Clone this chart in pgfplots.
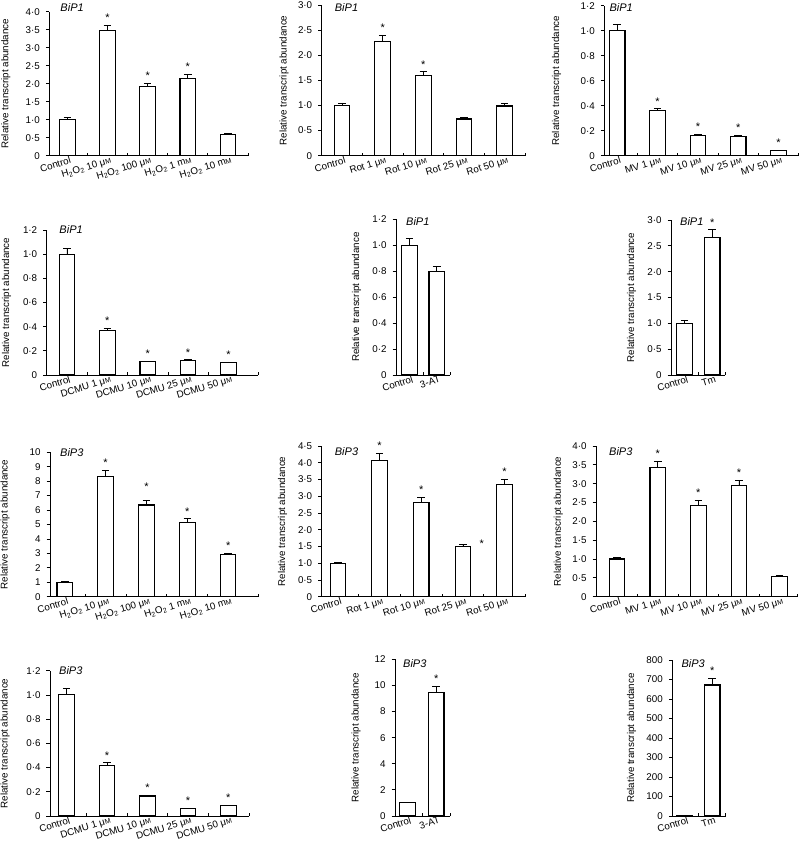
\documentclass[border=0pt]{standalone}
\usepackage{fontspec}
\setmainfont{Liberation Sans}
\usepackage{pgfplots}
\pgfplotsset{compat=1.18}

\newcommand{\uM}{μ{\fontsize{7}{8}\selectfont M}}
\newcommand{\mM}{m{\fontsize{7}{8}\selectfont M}}
\newcommand{\hh}{H\textsubscript{2}O\textsubscript{2}}

\pgfplotsset{
  bip/.style={
    scale only axis, clip=false, anchor=south west,
    axis lines*=left, axis line style={-, line width=0.9pt},
    tick style={black, line width=0.8pt},
    ymin=0, ybar, bar width=15.5pt, bar shift=0pt,
    ytick align=outside, xtick align=inside,
    major tick length=3.5pt, minor tick length=3pt,
    major x tick style={draw=none},
    tick label style={font=\fontsize{9.8}{11}\selectfont},
    yticklabel style={xshift=-2.5pt},
    xticklabel style={rotate=17, anchor=north east, inner sep=1pt, xshift=3pt},
    ylabel={Relative transcript abundance},
    label style={font=\fontsize{9.8}{11}\selectfont},
  },
  yl/.style={ylabel style={at={([xshift=-#1pt]rel axis cs:0,0.5)}, anchor=center}},
  eb/.style={fill=white, draw=black, line width=1.1pt,
    error bars/.cd, y dir=plus, y explicit,
    error bar style={line width=0.8pt, black},
    error mark options={rotate=90, mark size=3.8pt, line width=0.8pt, black}},
}
\tikzset{
  st/.style={anchor=south, inner sep=0pt, yshift=3.5pt, font=\fontsize{11}{11}\selectfont},
  ttl/.style={anchor=west, inner sep=0pt, font=\itshape\fontsize{11}{12}\selectfont},
}

\begin{document}
\begin{tikzpicture}
\useasboundingbox (0,0) rectangle (800pt,-858pt);

% ---------- row 1 ----------
\begin{axis}[bip, at={(49.3pt,-155.7pt)}, width=198.7pt, height=144pt,
  xmin=-0.45, xmax=4.5, xtick={0,...,4}, minor xtick={0.5,1.5,2.5,3.5,4.5},
  xticklabels={Control, \hh\ 10 \uM, \hh\ 100 \uM, \hh\ 1 \mM, \hh\ 10 \mM},
  ymax=4, ytick={0,0.5,...,4}, yticklabels={0,0·5,1·0,1·5,2·0,2·5,3·0,3·5,4·0}, yl=43.5]
\addplot[eb] coordinates {(0,1.00) +- (0,0.05) (1,3.47) +- (0,0.16) (2,1.92) +- (0,0.09) (3,2.15) +- (0,0.10) (4,0.60) +- (0,0.03)};
\node[st] at (axis cs:1,3.63) {*};
\node[st] at (axis cs:2,2.01) {*};
\node[st] at (axis cs:3,2.25) {*};
\node[ttl] at ([xshift=11pt,yshift=4pt]rel axis cs:0,1) {BiP1};
\end{axis}

\begin{axis}[bip, at={(321.7pt,-155.7pt)}, width=203.3pt, height=150.7pt,
  xmin=-0.5, xmax=4.5, xtick={0,...,4}, minor xtick={0.5,1.5,2.5,3.5,4.5},
  xticklabels={Control, Rot 1 \uM, Rot 10 \uM, Rot 25 \uM, Rot 50 \uM},
  ymax=3, ytick={0,0.5,...,3}, yticklabels={0,0·5,1·0,1·5,2·0,2·5,3·0}, yl=37.7]
\addplot[eb] coordinates {(0,1.00) +- (0,0.05) (1,2.27) +- (0,0.12) (2,1.59) +- (0,0.08) (3,0.73) +- (0,0.03) (4,0.99) +- (0,0.05)};
\node[st] at (axis cs:1,2.39) {*};
\node[st] at (axis cs:2,1.67) {*};
\node[ttl] at ([xshift=13pt,yshift=-2.5pt]rel axis cs:0,1) {BiP1};
\end{axis}

\begin{axis}[bip, at={(604.3pt,-155.7pt)}, width=193.7pt, height=150pt,
  xmin=-0.32, xmax=4.48, xtick={0,...,4}, minor xtick={0.5,1.5,2.5,3.5,4.48},
  xticklabels={Control, MV 1 \uM, MV 10 \uM, MV 25 \uM, MV 50 \uM},
  ymax=1.2, ytick={0,0.2,...,1.2}, yticklabels={0,0·2,0·4,0·6,0·8,1·0,1·2}, yl=47.6]
\addplot[eb] coordinates {(0,1.00) +- (0,0.05) (1,0.36) +- (0,0.015) (2,0.165) +- (0,0.007) (3,0.157) +- (0,0.005) (4,0.042) +- (0,0.003)};
\node[st] at (axis cs:1,0.375) {*};
\node[st] at (axis cs:2,0.172) {*};
\node[st] at (axis cs:3,0.162) {*};
\node[st] at (axis cs:4,0.045) {*};
\node[ttl] at ([xshift=5pt,yshift=-2pt]rel axis cs:0,1) {BiP1};
\end{axis}

% ---------- row 2 ----------
\begin{axis}[bip, at={(46.7pt,-375pt)}, width=211.3pt, height=145pt,
  xmin=-0.5, xmax=4.73, xtick={0,...,4}, minor xtick={0.5,1.5,2.5,3.5,4.73},
  xticklabels={Control, DCMU 1 \uM, DCMU 10 \uM, DCMU 25 \uM, DCMU 50 \uM},
  ymax=1.2, ytick={0,0.2,...,1.2}, yticklabels={0,0·2,0·4,0·6,0·8,1·0,1·2}, yl=40]
\addplot[eb] coordinates {(0,1.00) +- (0,0.05) (1,0.37) +- (0,0.015) (2,0.11) +- (0,0.005) (3,0.12) +- (0,0.005) (4,0.105) +- (0,0.003)};
\node[st] at (axis cs:1,0.385) {*};
\node[st] at (axis cs:2,0.115) {*};
\node[st] at (axis cs:3,0.125) {*};
\node[st] at (axis cs:4,0.108) {*};
\node[ttl] at ([xshift=12.6pt,yshift=0pt]rel axis cs:0,1) {BiP1};
\end{axis}

\begin{axis}[bip, at={(396pt,-375pt)}, width=54pt, height=155.7pt,
  xmin=-0.5, xmax=1.49, xtick={0,1}, minor xtick={0.5,1.49},
  xticklabels={Control, 3-AT},
  ymax=1.2, ytick={0,0.2,...,1.2}, yticklabels={0,0·2,0·4,0·6,0·8,1·0,1·2}, yl=39.3]
\addplot[eb] coordinates {(0,1.00) +- (0,0.05) (1,0.80) +- (0,0.04)};
\node[ttl] at ([xshift=10pt,yshift=-2pt]rel axis cs:0,1) {BiP1};
\end{axis}

\begin{axis}[bip, at={(671pt,-375pt)}, width=54pt, height=155pt,
  xmin=-0.49, xmax=1.46, xtick={0,1}, minor xtick={0.5,1.46},
  xticklabels={Control, Tm},
  ymax=3, ytick={0,0.5,...,3}, yticklabels={0,0·5,1·0,1·5,2·0,2·5,3·0}, yl=39.3]
\addplot[eb] coordinates {(0,1.00) +- (0,0.05) (1,2.67) +- (0,0.14)};
\node[st] at (axis cs:1,2.81) {*};
\node[ttl] at ([xshift=9pt,yshift=-2pt]rel axis cs:0,1) {BiP1};
\end{axis}

% ---------- row 3 ----------
\begin{axis}[bip, at={(50pt,-596.7pt)}, width=208pt, height=144.4pt,
  xmin=-0.36, xmax=4.73, xtick={0,...,4}, minor xtick={0.5,1.5,2.5,3.5,4.73},
  xticklabels={Control, \hh\ 10 \uM, \hh\ 100 \uM, \hh\ 1 \mM, \hh\ 10 \mM},
  ymax=10, ytick={0,1,...,10}, yticklabels={0,1,2,3,4,5,6,7,8,9,10}, yl=45]
\addplot[eb] coordinates {(0,1.00) +- (0,0.05) (1,8.35) +- (0,0.41) (2,6.35) +- (0,0.30) (3,5.12) +- (0,0.28) (4,2.91) +- (0,0.10)};
\node[st] at (axis cs:1,8.76) {*};
\node[st] at (axis cs:2,7.1) {*};
\node[st] at (axis cs:3,5.4) {*};
\node[st] at (axis cs:4,3.01) {*};
\node[ttl] at ([xshift=10pt,yshift=0pt]rel axis cs:0,1) {BiP3};
\end{axis}

\begin{axis}[bip, at={(321.7pt,-596.7pt)}, width=203.3pt, height=150.7pt,
  xmin=-0.39, xmax=4.49, xtick={0,...,4}, minor xtick={0.5,1.5,2.5,3.5,4.49},
  xticklabels={Control, Rot 1 \uM, Rot 10 \uM, Rot 25 \uM, Rot 50 \uM},
  ymax=4.5, ytick={0,0.5,...,4.5}, yticklabels={0,0·5,1·0,1·5,2·0,2·5,3·0,3·5,4·0,4·5}, yl=39]
\addplot[eb] coordinates {(0,1.00) +- (0,0.03) (1,4.08) +- (0,0.20) (2,2.81) +- (0,0.16) (3,1.49) +- (0,0.07) (4,3.34) +- (0,0.16)};
\node[st] at (axis cs:1,4.28) {*};
\node[st] at (axis cs:2,2.97) {*};
\node[st] at (axis cs:3.45,1.36) {*};
\node[st] at (axis cs:4,3.50) {*};
\node[ttl] at ([xshift=13pt,yshift=-6pt]rel axis cs:0,1) {BiP3};
\end{axis}

\begin{axis}[bip, at={(596pt,-596.7pt)}, width=201pt, height=150.7pt,
  xmin=-0.52, xmax=4.43, xtick={0,...,4}, minor xtick={0.5,1.5,2.5,3.5,4.43},
  xticklabels={Control, MV 1 \uM, MV 10 \uM, MV 25 \uM, MV 50 \uM},
  ymax=4, ytick={0,0.5,...,4}, yticklabels={0,0·5,1·0,1·5,2·0,2·5,3·0,3·5,4·0}, yl=37.7]
\addplot[eb] coordinates {(0,1.00) +- (0,0.05) (1,3.42) +- (0,0.18) (2,2.43) +- (0,0.13) (3,2.95) +- (0,0.14) (4,0.54) +- (0,0.02)};
\node[st] at (axis cs:1,3.60) {*};
\node[st] at (axis cs:2,2.56) {*};
\node[st] at (axis cs:3,3.09) {*};
\node[ttl] at ([xshift=13pt,yshift=-6pt]rel axis cs:0,1) {BiP3};
\end{axis}

% ---------- row 4 ----------
\begin{axis}[bip, at={(50pt,-816pt)}, width=199pt, height=145.3pt,
  xmin=-0.41, xmax=4.51, xtick={0,...,4}, minor xtick={0.5,1.5,2.5,3.5,4.51},
  xticklabels={Control, DCMU 1 \uM, DCMU 10 \uM, DCMU 25 \uM, DCMU 50 \uM},
  ymax=1.2, ytick={0,0.2,...,1.2}, yticklabels={0,0·2,0·4,0·6,0·8,1·0,1·2}, yl=45]
\addplot[eb] coordinates {(0,1.00) +- (0,0.05) (1,0.415) +- (0,0.025) (2,0.165) +- (0,0.006) (3,0.063) +- (0,0.003) (4,0.085) +- (0,0.003)};
\node[st] at (axis cs:1,0.44) {*};
\node[st] at (axis cs:2,0.171) {*};
\node[st] at (axis cs:3,0.066) {*};
\node[st] at (axis cs:4,0.088) {*};
\node[ttl] at ([xshift=9pt,yshift=0pt]rel axis cs:0,1) {BiP3};
\end{axis}

\begin{axis}[bip, at={(395pt,-816pt)}, width=55pt, height=156.7pt,
  xmin=-0.44, xmax=1.48, xtick={0,1}, minor xtick={0.5,1.48},
  xticklabels={Control, 3-AT},
  ymax=12, ytick={0,2,...,12}, yticklabels={0,2,4,6,8,10,12}, yl=39]
\addplot[eb] coordinates {(0,1.02) +- (0,0.05) (1,9.47) +- (0,0.48)};
\node[st] at (axis cs:1,9.95) {*};
\node[ttl] at ([xshift=8pt,yshift=-4pt]rel axis cs:0,1) {BiP3};
\end{axis}

\begin{axis}[bip, at={(672.3pt,-816pt)}, width=53.4pt, height=156pt,
  xmin=-0.45, xmax=1.49, xtick={0,1}, minor xtick={0.5,1.49},
  xticklabels={Control, Tm},
  ymax=800, ytick={0,100,...,800}, yticklabels={0,100,200,300,400,500,600,700,800}, yl=40.6]
\addplot[eb] coordinates {(0,1.0) +- (0,0.05) (1,672) +- (0,34)};
\node[st] at (axis cs:1,706) {*};
\node[ttl] at ([xshift=9pt,yshift=-4pt]rel axis cs:0,1) {BiP3};
\end{axis}
\end{tikzpicture}
\end{document}
